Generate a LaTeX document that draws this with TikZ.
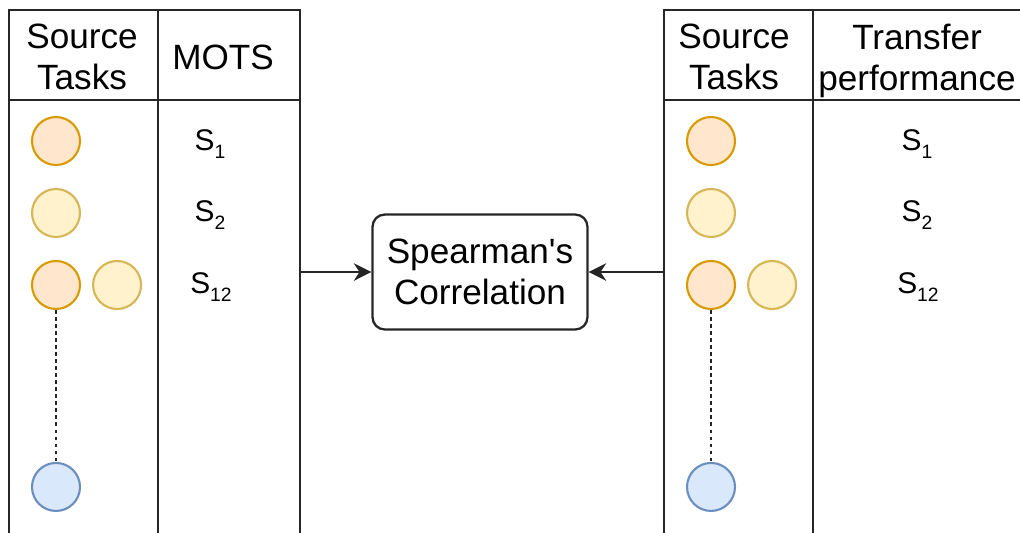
\documentclass[tikz,border=0pt]{standalone}
\usepackage{fontspec}
\setmainfont{Liberation Sans}
\usetikzlibrary{positioning, arrows.meta, calc}

\definecolor{orfill}{HTML}{FFE6CC}
\definecolor{ordraw}{HTML}{D79B00}
\definecolor{yefill}{HTML}{FFF2CC}
\definecolor{yedraw}{HTML}{D6B656}
\definecolor{blfill}{HTML}{DAE8FC}
\definecolor{bldraw}{HTML}{6C8EBF}

\tikzstyle{task}=[circle, draw, line width=1.2pt, minimum size=0.96cm, inner sep=0pt]
\tikzstyle{orange}=[task, fill=orfill, draw=ordraw]
\tikzstyle{yellow}=[task, fill=yefill, draw=yedraw]
\tikzstyle{blue}=[task, fill=blfill, draw=bldraw]
\tikzstyle{head}=[align=center, font=\fontsize{20}{23}\selectfont]
\tikzstyle{score}=[anchor=base, font=\fontsize{17}{20}\selectfont]
\tikzstyle{grid}=[line width=1.3pt, black!85]
\tikzstyle{arr}=[line width=1.3pt, black!85, -{Stealth[length=10pt,width=10pt]}]

\newcommand{\subidx}[1]{\raisebox{-0.28em}{\fontsize{11}{13}\selectfont #1}}

\begin{document}
\begin{tikzpicture}[x=0.02cm, y=-0.02cm, node distance=1.44cm]
		\clip (0,0) rectangle (1020,532);
		
		% left table
		\draw[grid] (9,10) rectangle (300,560);
		\draw[grid] (158,10) -- (158,560);
		\draw[grid] (9,100) -- (300,100);
		\node(lhead) [head] at (82,57) {Source\\Tasks};
		\node(mhead) [head] at (223,57) {MOTS};
		
		\node(l1) [orange] at (56,141) {};
		\node(l2) [yellow, below of = l1] {};
		\node(l3) [orange, below of = l2] {};
		\node(l3b) [yellow, right = 0.22cm of l3] {};
		\node(l4) [blue, below of = l3, yshift=-2.6cm] {};
		\draw[grid, dash pattern=on 2.2pt off 1.8pt] (l3) -- (l4);
		
		\node(m1) [score] at (210,150) {S\subidx{1}};
		\node(m2) [score] at (210,221) {S\subidx{2}};
		\node(m12) [score] at (211,293) {S\subidx{12}};
		
		% right table
		\draw[grid] (664,10) rectangle (1060,560);
		\draw[grid] (813,10) -- (813,560);
		\draw[grid] (664,100) -- (1060,100);
		\node(rhead) [head] at (734,57) {Source\\Tasks};
		\node(thead) [head] at (917,61) {Transfer\\performance};
		
		\node(r1) [orange] at (711,141) {};
		\node(r2) [yellow, below of = r1] {};
		\node(r3) [orange, below of = r2] {};
		\node(r3b) [yellow, right = 0.22cm of r3] {};
		\node(r4) [blue, below of = r3, yshift=-2.6cm] {};
		\draw[grid, dash pattern=on 2.2pt off 1.8pt] (r3) -- (r4);
		
		\node(t1) [score] at (917,150) {S\subidx{1}};
		\node(t2) [score] at (917,221) {S\subidx{2}};
		\node(t12) [score] at (918,293) {S\subidx{12}};
		
		% correlation
		\node(spear) [draw, line width=1.3pt, black!85, text=black, rounded corners=7pt, minimum width=4.3cm, minimum height=2.3cm, head] at (480,272) {Spearman\textquotesingle s\\Correlation};
		\coordinate(lout) at (300,272);
		\coordinate(rout) at (664,272);
		\draw[arr] (lout) -- (spear);
		\draw[arr] (rout) -- (spear);
		\end{tikzpicture}
\end{document}
